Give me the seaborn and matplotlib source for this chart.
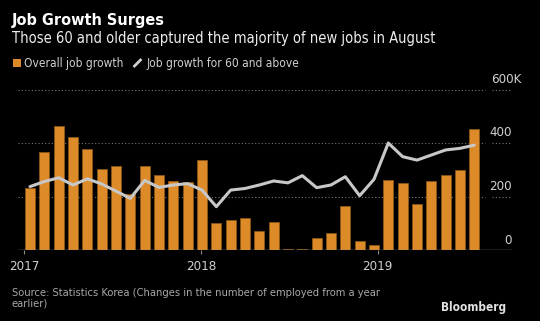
import numpy as np
import pandas as pd
import matplotlib
matplotlib.use("Agg")
import matplotlib.pyplot as plt
import seaborn as sns
from matplotlib.patches import Rectangle
from matplotlib.lines import Line2D

# ---- data (thousands) ----
months = pd.date_range("2017-01-01", "2019-08-01", freq="MS").strftime("%Y-%m").tolist()
overall = [231, 366, 463, 421, 377, 301, 314, 208, 314, 280, 257, 255,
           335, 102, 112, 121, 72, 106, 5, 3, 44, 62, 164, 32,
           18, 263, 249, 171, 259, 280, 299, 451]
age60 = [237, 256, 270, 243, 266, 247, 220, 193, 260, 234, 243, 248,
         224, 162, 224, 230, 243, 258, 251, 278, 233, 243, 274, 203,
         264, 400, 349, 336, 355, 374, 380, 392]
year_labels = ["2017", "2018", "2019"]
year_pos = [-0.42, 11.93, 24.26]
y_ticks = [0, 200, 400, 600]
y_tick_labels = ["0", "200", "400", "600K"]

df = pd.DataFrame({"month": months, "overall": overall, "age60": age60,
                   "pos": np.arange(len(months))})

W, H = 540, 321
sns.set_theme(style="dark")
plt.rcParams["font.family"] = ["DejaVu Sans"]
fig = plt.figure(figsize=(W / 100, H / 100), dpi=100, facecolor="black")

# axes geometry in pixels
ax_l, ax_r = 18.3, 511.7
y0_px, y600_px = 250.0, 89.5
ppu = (y0_px - y600_px) / 600.0
ax_top_px = 80.0
ymax = (y0_px - ax_top_px) / ppu
ax = fig.add_axes([ax_l / W, 1 - y0_px / H, (ax_r - ax_l) / W, (y0_px - ax_top_px) / H])
ax.set_facecolor("black")

def fx(px):
    return px / W

def fy(py):
    return 1 - py / H

bar_color = "#dd8a28"
sns.barplot(data=df, x="pos", y="overall", color=bar_color, width=0.68,
            edgecolor="#8a5518", linewidth=0.6, saturation=1, ax=ax, zorder=2)
sns.lineplot(data=df, x="pos", y="age60", color="#c8c8c8", linewidth=2.2,
             ax=ax, zorder=3)

ax.set_xlim(-0.816, 33.61)
ax.set_ylim(0, ymax)
for s in ax.spines.values():
    s.set_visible(False)
ax.grid(False)
ax.set_xlabel("")
ax.set_ylabel("")
ax.set_yticks([])

# gridlines
gxmax = (485 - ax_l) / (ax_r - ax_l)
gxmin2 = (491.7 - ax_l) / (ax_r - ax_l)
for v in y_ticks[1:]:
    ax.axhline(v, xmin=0, xmax=gxmax, color="#777777", lw=0.8,
               linestyle=(0, (1, 2)), zorder=1)
    ax.axhline(v, xmin=gxmin2, xmax=1, color="#777777", lw=0.8,
               linestyle=(0, (1, 2)), zorder=1)
ax.axhline(0, color="#8a8a8a", lw=1.0, zorder=4)

# x ticks
ax.set_xticks(year_pos)
ax.set_xticklabels(year_labels)
ax.tick_params(axis="x", length=3, width=0.8, color="#8a8a8a", pad=4,
               labelcolor="#d0d0d0", labelsize=9.5, bottom=True)
for lab in ax.get_xticklabels():
    lab.set_fontstretch("condensed")

# y tick labels (right side, above gridlines)
for v, lab in zip(y_ticks, y_tick_labels):
    py = y0_px - v * ppu - 6.5
    if lab.endswith("K"):
        fig.text(fx(491.5), fy(py), lab, ha="left", va="baseline",
                 color="#d0d0d0", fontsize=9.5, fontstretch="condensed")
    else:
        fig.text(fx(512), fy(py), lab, ha="right", va="baseline",
                 color="#d0d0d0", fontsize=9.5, fontstretch="condensed")

# titles
fig.text(fx(12), fy(25), "Job Growth Surges", ha="left", va="baseline",
         color="white", fontsize=11.6, fontweight="bold", fontstretch="condensed")
fig.text(fx(12), fy(42.5), "Those 60 and older captured the majority of new jobs in August",
         ha="left", va="baseline", color="#ececec", fontsize=10.55, fontstretch="condensed")

# legend
fig.patches.append(Rectangle((fx(13), fy(66.5)), 7.5 / W, 7.5 / H, transform=fig.transFigure,
                             facecolor=bar_color, edgecolor="none"))
fig.text(fx(24), fy(66.5), "Overall job growth", ha="left", va="baseline",
         color="#cfcfcf", fontsize=8.6, fontstretch="condensed")
fig.lines.append(Line2D([fx(133.5), fx(141.5)], [fy(67), fy(59)], transform=fig.transFigure,
                        color="#cfcfcf", lw=2.0, solid_capstyle="butt"))
fig.text(fx(147), fy(66.5), "Job growth for 60 and above", ha="left", va="baseline",
         color="#cfcfcf", fontsize=8.6, fontstretch="condensed")

# source
fig.text(fx(12), fy(295.5), "Source: Statistics Korea (Changes in the number of employed from a year",
         ha="left", va="baseline", color="#a8a8a8", fontsize=8, fontstretch="condensed")
fig.text(fx(12), fy(306.5), "earlier)", ha="left", va="baseline", color="#a8a8a8",
         fontsize=8, fontstretch="condensed")
fig.text(fx(506), fy(311.5), "Bloomberg", ha="right", va="baseline", color="#e0e0e0",
         fontsize=8.5, fontweight="bold", fontstretch="condensed")

fig.savefig("out.png", dpi=100, facecolor="black")
